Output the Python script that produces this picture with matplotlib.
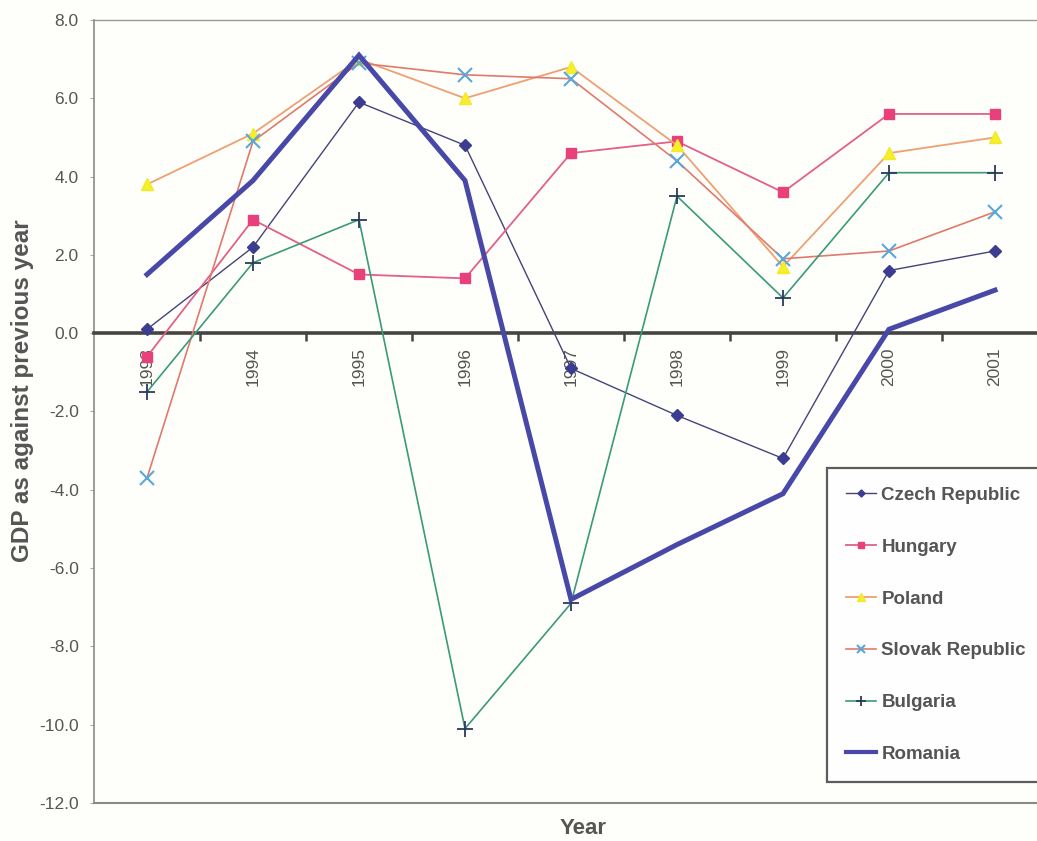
import matplotlib
matplotlib.use("Agg")
import matplotlib.pyplot as plt
from matplotlib.ticker import FixedLocator, FuncFormatter

plt.rcParams["font.family"] = ["Liberation Sans", "DejaVu Sans"]

years = [1993, 1994, 1995, 1996, 1997, 1998, 1999, 2000, 2001]
year_labels = [str(y) for y in years]

czech = [0.1, 2.2, 5.9, 4.8, -0.9, -2.1, -3.2, 1.6, 2.1]
hungary = [-0.6, 2.9, 1.5, 1.4, 4.6, 4.9, 3.6, 5.6, 5.6]
poland = [3.8, 5.1, 7.0, 6.0, 6.8, 4.8, 1.7, 4.6, 5.0]
slovak = [-3.7, 4.9, 6.9, 6.6, 6.5, 4.4, 1.9, 2.1, 3.1]
bulgaria = [-1.5, 1.8, 2.9, -10.1, -6.9, 3.5, 0.9, 4.1, 4.1]
romania = [1.5, 3.9, 7.1, 3.9, -6.8, -5.4, -4.1, 0.1, 1.1]

names = ["Czech Republic", "Hungary", "Poland", "Slovak Republic", "Bulgaria", "Romania"]

txt = "#555555"
bg = "#fefefb"

fig = plt.figure(figsize=(10.37, 8.41), dpi=100, facecolor=bg)
ax = fig.add_axes([94 / 1037, 38 / 841, 954 / 1037, 783 / 841])
ax.set_facecolor(bg)

ax.plot(years, czech, color="#44447a", lw=1.0, marker="D", ms=6,
        mfc="#3c3c90", mec="#3c3c90", label=names[0], zorder=5)
ax.plot(years, hungary, color="#e2608a", lw=1.3, marker="s", ms=7.5,
        mfc="#e8407a", mec="#e8407a", label=names[1], zorder=5)
ax.plot(years, poland, color="#eea070", lw=1.3, marker="^", ms=9,
        mfc="#f4f02a", mec="#f4e82a", label=names[2], zorder=5)
ax.plot(years, slovak, color="#e07a6a", lw=1.2, marker="x", ms=10, mew=1.5,
        mfc="#5aa8d8", mec="#5aa8d8", label=names[3], zorder=5)
ax.plot(years, bulgaria, color="#3a9a7a", lw=1.2, marker="+", ms=11, mew=1.3,
        mec="#2a3a5a", label=names[4], zorder=5)
ax.plot(years, romania, color="#4848a8", lw=3.6, solid_joinstyle="miter",
        label=names[5], zorder=6)

ax.set_xlim(1992.5, 2001.5)
ax.set_ylim(-12, 8)

# category axis sits on the zero line
ax.spines["bottom"].set_position(("data", 0))
ax.spines["bottom"].set_color("#444444")
ax.spines["bottom"].set_linewidth(2.6)
ax.spines["left"].set_color("#8a8a8a")
ax.spines["left"].set_linewidth(1.2)
ax.spines["top"].set_color("#9a9a9a")
ax.spines["top"].set_linewidth(1.0)
ax.spines["right"].set_visible(False)
ax.axhline(-12, color="#8a8a8a", lw=1.5, clip_on=False)

ax.xaxis.set_major_locator(FixedLocator(years))
ax.set_xticklabels(year_labels, rotation=90, va="top", ha="center",
                   fontsize=12.5, color=txt)
ax.xaxis.set_minor_locator(FixedLocator([y + 0.5 for y in years[:-1]]))
ax.tick_params(axis="x", which="major", length=0, pad=10)
ax.tick_params(axis="x", which="minor", length=6, width=1.8,
               color="#444444", direction="out")

ax.yaxis.set_major_locator(FixedLocator(range(-12, 9, 2)))
ax.yaxis.set_major_formatter(FuncFormatter(lambda v, p: f"{v:.1f}"))
ax.tick_params(axis="y", length=3, color="#aaaaaa", labelsize=12.5,
               labelcolor=txt, pad=8)

fig.text(0.022, 1 - 391 / 841, "GDP as against previous year", rotation=90,
         ha="center", va="center", fontsize=17.5, fontweight="bold", color=txt)
fig.text(583 / 1037, 1 - 829 / 841, "Year", ha="center", va="center",
         fontsize=16, fontweight="bold", color=txt)

leg = fig.legend(loc="upper left",
                 bbox_to_anchor=(827 / 1037, 1 - 468 / 841 - 0.01, 0.25, 0.01),
                 mode="expand", frameon=True, fancybox=False,
                 prop={"size": 13.5, "weight": "bold"}, labelcolor=txt,
                 handlelength=1.6, handletextpad=0.3, labelspacing=1.85,
                 borderpad=1.0, borderaxespad=0, markerscale=0.6)
frame = leg.get_frame()
frame.set_edgecolor("#333333")
frame.set_linewidth(1.6)
frame.set_facecolor("white")
for h in leg.legend_handles:
    if h.get_linewidth() > 3:
        h.set_linewidth(3.0)

fig.savefig("out.png", dpi=100, facecolor=bg)
